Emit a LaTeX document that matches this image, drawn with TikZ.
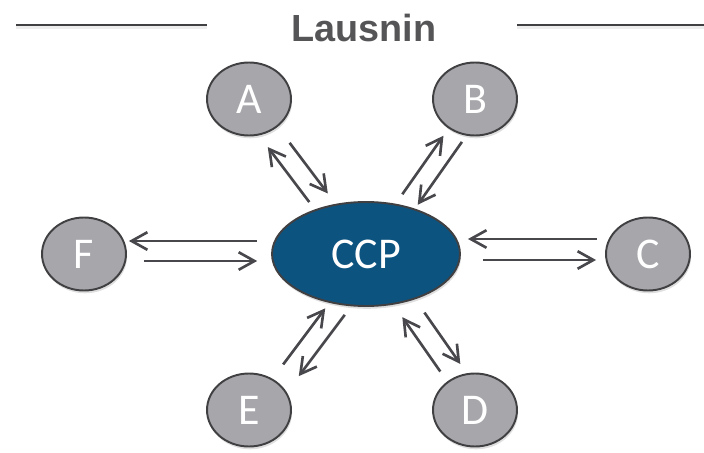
\documentclass[tikz,border=0pt]{standalone}
\usepackage{fontspec}
\setmainfont{Carlito}
\newfontfamily\headfont{Liberation Sans}
\usepackage{xcolor}
\usetikzlibrary{positioning, shapes.geometric, arrows.meta, shadows}

\definecolor{nodegray}{RGB}{166,166,171}
\definecolor{edgegray}{RGB}{64,64,66}
\definecolor{ccpblue}{RGB}{12,83,128}
\definecolor{arrowgray}{RGB}{72,72,76}
\definecolor{titlegray}{RGB}{85,85,87}

\begin{document}
\begin{tikzpicture}[
  x=0.02cm, y=-0.02cm,
  member/.style={ellipse, draw=edgegray, line width=1.1pt, fill=nodegray, text=white,
    minimum width=1.68cm, minimum height=1.46cm, inner sep=0pt,
    font=\fontsize{25}{30}\selectfont,
    drop shadow={opacity=0.25, shadow xshift=0.6pt, shadow yshift=-1.6pt}},
  hub/.style={member, fill=ccpblue, minimum width=3.76cm, minimum height=2.08cm},
  arr/.style={draw=arrowgray, line width=1.5pt, -{Straight Barb[length=9pt, width=10pt]}},
  rule/.style={draw=edgegray, line width=1.5pt,
    preaction={draw=black!7, line width=2.6pt, transform canvas={yshift=-1.1pt}}},
  off/.style={transform canvas={shift={#1}}}
]
\useasboundingbox (0,0) rectangle (704,453);

% Heading with rules
\node[font=\headfont\bfseries\fontsize{21.5}{26}\selectfont, text=titlegray] (title) at (364,28) {Lausnin};
\draw[rule] (16,25) -- (207,25);
\draw[rule] (517,25) -- (704,25);

% Central party and members
\node[hub] (ccp) at (366,254) {CCP};
\node[member] (a) at (249,99) {A};
\node[member] (b) at (475,99) {B};
\node[member] (c) at (648,254) {C};
\node[member] (d) at (475,410) {D};
\node[member] (e) at (249,410) {E};
\node[member] (f) at (84,254) {F};

% A pair
\draw[arr, off={(-11.1,8.5)}, shorten <=8.3pt, shorten >=5.9pt] (ccp) -- (a);
\draw[arr, off={(4.8,-3.6)}, shorten <=11.5pt, shorten >=5.8pt] (a) -- (ccp);

% B pair
\draw[arr, off={(-3.8,-2.7)}, shorten <=5.4pt, shorten >=5.2pt] (ccp) -- (b);
\draw[arr, off={(11.4,8.1)}, shorten <=2pt, shorten >=5.6pt] (b) -- (ccp);

% C pair
\draw[arr, off={(0,-15)}, shorten <=4.5pt, shorten >=4pt] (c) -- (ccp);
\draw[arr, off={(0,6)}, shorten <=12.5pt, shorten >=5.1pt] (ccp) -- (c);

% D pair
\draw[arr, off={(-5.3,3.6)}, shorten <=7pt, shorten >=7.1pt] (d) -- (ccp);
\draw[arr, off={(11.8,-8.2)}, shorten <=12.1pt, shorten >=4.1pt] (ccp) -- (d);

% E pair
\draw[arr, shorten <=10.1pt, shorten >=3.9pt] (e) -- (ccp);
\draw[arr, off={(15.6,11.7)}, shorten <=0.2pt, shorten >=10.1pt] (ccp) -- (e);

% F pair
\draw[arr, off={(0,-13)}, shorten <=7.9pt, shorten >=1.1pt] (ccp) -- (f);
\draw[arr, off={(0,7)}, shorten <=9.6pt, shorten >=7.9pt] (f) -- (ccp);

\end{tikzpicture}
\end{document}
